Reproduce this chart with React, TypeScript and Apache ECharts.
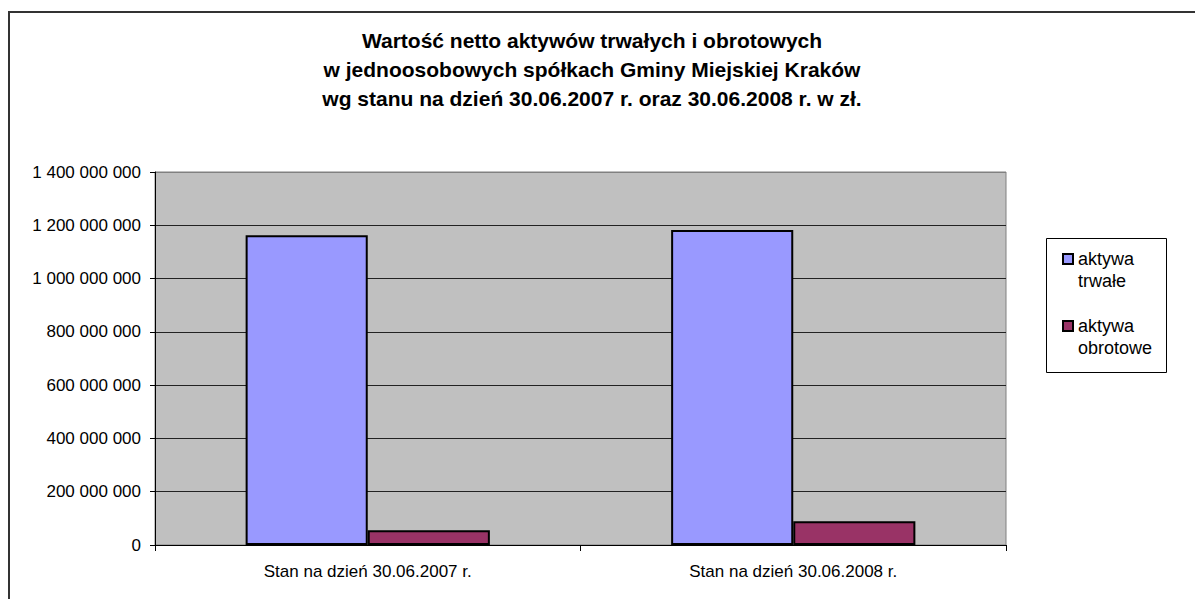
import React, { useEffect, useRef } from "react";
import * as echarts from "echarts";

const titleLines = [
  "Wartość netto aktywów trwałych i obrotowych",
  "w jednoosobowych spółkach Gminy Miejskiej Kraków",
  "wg stanu na dzień 30.06.2007 r. oraz 30.06.2008 r. w zł.",
];
const categories = ["Stan na dzień 30.06.2007 r.", "Stan na dzień 30.06.2008 r."];
const seriesNames = ["aktywa trwałe", "aktywa obrotowe"];
const aktywaTrwale = [1163000000, 1182000000];
const aktywaObrotowe = [55000000, 89000000];
const seriesColors = ["#9999FF", "#993366"];
const yMin = 0;
const yMax = 1400000000;
const yInterval = 200000000;

const FONT = "'Liberation Sans', Arial, sans-serif";

function fmt(v: number): string {
  return String(Math.round(v)).replace(/\B(?=(\d{3})+(?!\d))/g, " ");
}

export default function App() {
  const ref = useRef<HTMLDivElement>(null);
  useEffect(() => {
    if (!ref.current) return;
    const chart = echarts.init(ref.current, null, { renderer: "svg" });
    const splitColors = ["#222", "#222", "#222", "#222", "#222", "#222", "#222", "#808080"];
    chart.setOption({
      animation: false,
      backgroundColor: "#ffffff",
      title: {
        text: titleLines.join("\n"),
        left: 592,
        top: 26,
        padding: 0,
        textAlign: "center",
        textStyle: {
          fontFamily: FONT,
          fontSize: 21,
          fontWeight: "bold",
          color: "#000",
          lineHeight: 29,
        },
      },
      graphic: [
        {
          type: "rect",
          shape: { x: 9, y: 12, width: 1400, height: 800 },
          style: { fill: "none", stroke: "#333", lineWidth: 2 },
          silent: true,
          z: -10,
        },
        {
          type: "rect",
          shape: { x: 1046.5, y: 238.5, width: 120, height: 134 },
          style: { fill: "none", stroke: "#000", lineWidth: 1 },
          silent: true,
        },
      ],
      legend: {
        orient: "vertical",
        left: 1062,
        top: 226,
        padding: 0,
        itemGap: 1,
        itemWidth: 10,
        itemHeight: 10,
        icon: "rect",
        data: seriesNames,
        itemStyle: { borderColor: "#000", borderWidth: 2 },
        formatter: (name: string) => " \n" + name.replace(" ", "\n"),
        textStyle: {
          fontFamily: FONT,
          fontSize: 18,
          color: "#000",
          lineHeight: 22,
        },
      },
      grid: {
        left: 155,
        top: 172,
        right: 189,
        bottom: 54,
        show: true,
        backgroundColor: "#C0C0C0",
        borderColor: "#808080",
        borderWidth: 1,
        containLabel: false,
      },
      xAxis: {
        type: "category",
        data: categories,
        axisLine: { show: true, lineStyle: { color: "#000", width: 1 } },
        axisTick: { show: true, length: 6, lineStyle: { color: "#000" } },
        axisLabel: {
          margin: 18,
          fontFamily: FONT,
          fontSize: 17,
          color: "#000",
        },
        splitLine: { show: false },
      },
      yAxis: {
        type: "value",
        min: yMin,
        max: yMax,
        interval: yInterval,
        axisLine: { show: true, lineStyle: { color: "#000", width: 1 } },
        axisTick: { show: true, length: 5, lineStyle: { color: "#000" } },
        axisLabel: {
          margin: 14,
          fontFamily: FONT,
          fontSize: 17,
          color: "#000",
          formatter: (v: number) => fmt(v),
        },
        splitLine: { show: true, lineStyle: { color: splitColors, width: 1 } },
      },
      series: [
        {
          name: seriesNames[0],
          type: "bar",
          data: aktywaTrwale,
          barWidth: "28.7%",
          barGap: "0%",
          itemStyle: { color: seriesColors[0], borderColor: "#000", borderWidth: 2 },
        },
        {
          name: seriesNames[1],
          type: "bar",
          data: aktywaObrotowe,
          barWidth: "28.7%",
          barGap: "0%",
          itemStyle: { color: seriesColors[1], borderColor: "#000", borderWidth: 2 },
        },
      ],
    });
    return () => chart.dispose();
  }, []);
  return (
    <div
      ref={ref}
      style={{ position: "absolute", left: 0, top: 0, width: 1195, height: 599 }}
    />
  );
}
